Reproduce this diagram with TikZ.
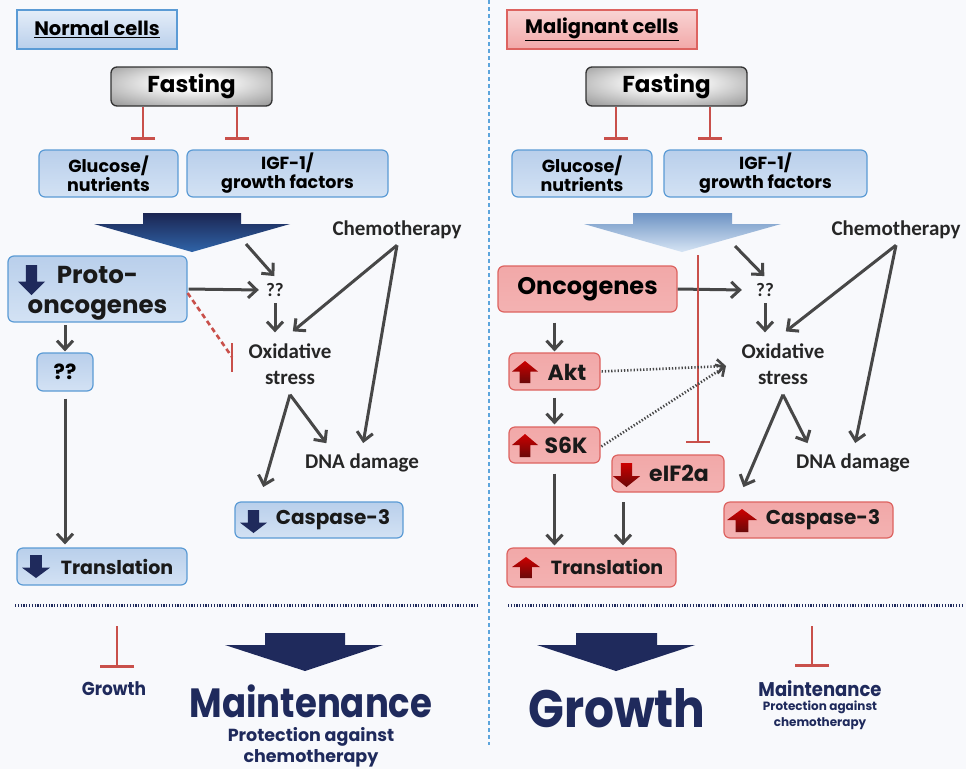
\documentclass[tikz,border=0pt]{standalone}
\usepackage{fontspec}
\setmainfont{Poppins}
\newfontfamily\carl{Carlito}
\usetikzlibrary{arrows.meta}
\definecolor{bgc}{HTML}{F8F9FC}
\definecolor{bline}{HTML}{5B9BD5}
\definecolor{btop}{HTML}{B9CFEB}
\definecolor{bbot}{HTML}{D3E2F4}
\definecolor{rline}{HTML}{DD6360}
\definecolor{rtop}{HTML}{F2A8A8}
\definecolor{rmid}{HTML}{FAD4D4}
\definecolor{rbot}{HTML}{F3B2B2}
\definecolor{agray}{HTML}{474747}
\definecolor{inhred}{HTML}{C9504B}
\definecolor{navy}{HTML}{1F2A5C}
\definecolor{iconred}{HTML}{B00E0E}
\definecolor{divblue}{HTML}{5DA5DC}
\pgfdeclareradialshading{fastshade}{\pgfpoint{0bp}{6bp}}{color(0bp)=(white); color(8bp)=(white); color(40bp)=(black!45); color(60bp)=(black!60); color(71bp)=(black!65)}
\newcommand\fs[2]{\fontsize{#1}{#2}\selectfont}
% cx cy w h style
\newcommand\dnicon[5]{\path[#5] ({#1-0.21*#3},{#2-0.5*#4}) -- ({#1+0.21*#3},{#2-0.5*#4}) -- ({#1+0.21*#3},{#2+0.05*#4}) -- ({#1+0.5*#3},{#2+0.05*#4}) -- ({#1},{#2+0.5*#4}) -- ({#1-0.5*#3},{#2+0.05*#4}) -- ({#1-0.21*#3},{#2+0.05*#4}) -- cycle;}
\newcommand\upicon[5]{\path[#5] ({#1-0.21*#3},{#2+0.5*#4}) -- ({#1+0.21*#3},{#2+0.5*#4}) -- ({#1+0.21*#3},{#2-0.02*#4}) -- ({#1+0.5*#3},{#2-0.02*#4}) -- ({#1},{#2-0.5*#4}) -- ({#1-0.5*#3},{#2-0.02*#4}) -- ({#1-0.21*#3},{#2-0.02*#4}) -- cycle;}
\newcommand\tall[1]{\scalebox{1}[1.1]{#1}}
\begin{document}
\begin{tikzpicture}[x=1pt,y=-1pt,
  bluebox/.style={rectangle, draw=bline, line width=1.2pt, rounded corners=6pt, top color=btop, bottom color=bbot, inner sep=0pt, align=center},
  redbox/.style={rectangle, draw=rline, line width=1.2pt, rounded corners=6pt, top color=rtop, middle color=rmid, bottom color=rbot, inner sep=0pt, align=center},
  fastbox/.style={rectangle, draw=black!80, line width=1.3pt, rounded corners=6pt, shade, shading=fastshade, inner sep=0pt, minimum width=161pt, minimum height=39pt, font=\bfseries\fs{23}{27}},
  hdr/.style={rectangle, line width=1.2pt, inner sep=0pt, minimum height=39pt, font=\bfseries\fs{19.5}{22}},
  arr/.style={draw=agray, line width=3pt, shorten >=1pt, -{Straight Barb[length=8.5pt,width=16pt]}},
  dotarr/.style={draw=agray, line width=2.6pt, dash pattern=on 1.3pt off 1.9pt, -{Straight Barb[length=7pt,width=14pt]}},
  inh/.style={draw=inhred, line width=2.8pt, -{Bar[width=24pt]}},
  plain/.style={font=\carl\bfseries\fs{21}{26}, text=black!85, inner xsep=4pt, inner ysep=6pt, align=center},
  btxt/.style={font=\bfseries\fs{#1}{#1}, inner sep=0pt, text=black!90},
  navytxt/.style={text=navy, align=center, inner sep=0pt},
  bigarrow/.style={fill=navy}
]
\useasboundingbox (0,0) rectangle (966,769);
\fill[bgc] (0,0) rectangle (966,769);

% dividers
\draw[divblue, line width=1.4pt, dash pattern=on 4pt off 3pt] (489,0) -- (489,745);
\draw[navy, line width=3pt, dash pattern=on 1.2pt off 1.6pt] (15,605) -- (479,605);
\draw[navy, line width=3pt, dash pattern=on 1.2pt off 1.6pt] (508,605) -- (964,605);

% ================= LEFT: normal cells =================
\node[hdr, draw=bline, top color=bbot!60!white, bottom color=btop, minimum width=160pt] (hdrL) at (97,29.5) {\underline{Normal cells}};
\node[fastbox] (fastL) at (191.5,86.5) {Fasting};
\node[bluebox, minimum width=139pt, minimum height=47pt, font=\bfseries\fs{17.5}{19}] (gluL) at (108.5,173.5) {Glucose/\\nutrients};
\node[bluebox, minimum width=201pt, minimum height=47pt, font=\bfseries\fs{17.5}{19}] (igfL) at (287.5,173.5) {IGF-1/\\growth factors};
\coordinate (i1) at (143,140);
\coordinate (i2) at (237,140);
\draw[inh] (fastL.south -| i1) -- (i1);
\draw[inh] (fastL.south -| i2) -- (i2);

% big block arrow
\shade[top color=navy!90!black, bottom color={rgb,255:red,47;green,100;blue,168}] (143,213) -- (241,213) -- (241,224) -- (290,224) -- (192,252) -- (94,224) -- (143,224) -- cycle;
\coordinate (srcL) at (246,244);

\node[plain] (chemL) at (397,230) {Chemotherapy};
\node[bluebox, minimum width=179pt, minimum height=66pt] (proto) at (97.5,289) {};
\node[btxt=24, font=\bfseries\fs{24.5}{30}, align=center] (protoT) at (97.5,293) {Proto-\\oncogenes};
\dnicon{31.5}{280}{27}{30}{fill=navy}
\node[plain, font=\carl\bfseries\fs{19}{20}, minimum width=30pt, minimum height=26pt, inner sep=0pt] (qqL) at (275,290) {??};
\node[plain, inner ysep=10pt] (oxL) at (290,364) {Oxidative\\stress};
\node[plain, inner ysep=8pt] (dnaL) at (362,463) {DNA damage};
\node[bluebox, minimum width=168pt, minimum height=36pt] (caspL) at (319,520) {};
\node[btxt=20] (caspLT) at (333,520) {Caspase-3};
\dnicon{253.5}{521.5}{27}{23}{fill=navy}
\node[bluebox, minimum width=56pt, minimum height=38pt, font=\bfseries\fs{21}{21}] (qbox) at (65,372) {??};
\node[bluebox, minimum width=170pt, minimum height=37pt] (transL) at (102,566.5) {};
\node[btxt=19] (transLT) at (117,567) {Translation};
\dnicon{36}{566.5}{28}{23}{fill=navy}

\draw[arr] (srcL) -- (qqL.north);
\draw[arr, shorten <=1pt] (proto.east) -- (qqL.west);
\draw[arr] (qqL.south) -- (qqL.south |- oxL.north);
\coordinate (oxLt) at (292,332);
\draw[arr] (chemL.south) -- (oxLt);
\coordinate (dnaLt) at (363,444);
\draw[arr] (chemL.south) -- (dnaLt);
\coordinate (caspLt) at (263,488);
\draw[arr] (oxL.south) -- (caspLt);
\coordinate (dnaLt2) at (327,444);
\draw[arr] (oxL.south) -- (dnaLt2);
\coordinate (barL) at (232,357);
\draw[inhred, line width=2.6pt, dash pattern=on 5pt off 3.5pt] ([yshift=-4pt]proto.east) -- (barL);
\draw[inhred, line width=2.8pt] (barL) ++(0,-14) -- ++(0,29);
\coordinate (protoB) at (65,322);
\draw[arr, shorten <=3pt] (protoB) -- (qbox.north);
\draw[arr, shorten <=7pt, shorten >=3pt] (qbox.south) -- (qbox.south |- transL.north);

% bottom left
\coordinate (tL) at (117,626);
\node[navytxt, font=\bfseries\fs{17}{17}] (growthS) at (114,689) {\tall{Growth}};
\draw[inhred, line width=2.8pt, -{Bar[width=34pt]}] (tL) -- (tL |- 0,668);
\path[bigarrow] (265,633) -- (345,633) -- (345,645) -- (383,645) -- (305,671) -- (225,645) -- (265,645) -- cycle;
\node[navytxt, font=\bfseries\fs{35.5}{35.5}] (maintL) at (311,701) {\scalebox{1}[1.15]{Maintenance}};
\node[navytxt, font=\bfseries\fs{17.5}{21}] (protL) at (311,747) {Protection against\\chemotherapy};

% ================= RIGHT: malignant cells =================
\node[hdr, draw=rline, top color=rtop!50!white, bottom color=rtop, minimum width=190pt] (hdrR) at (602,29.5) {\underline{Malignant cells}};
\node[fastbox] (fastR) at (666.5,86.5) {Fasting};
\node[bluebox, minimum width=140pt, minimum height=47pt, font=\bfseries\fs{17.5}{19}] (gluR) at (582,173.5) {Glucose/\\nutrients};
\node[bluebox, minimum width=203pt, minimum height=47pt, font=\bfseries\fs{17.5}{19}] (igfR) at (765.5,173.5) {IGF-1/\\growth factors};
\coordinate (i3) at (616,140);
\coordinate (i4) at (710,140);
\draw[inh] (fastR.south -| i3) -- (i3);
\draw[inh] (fastR.south -| i4) -- (i4);

\shade[top color={rgb,255:red,110;green,148;blue,196}, bottom color={rgb,255:red,214;green,228;blue,244}] (633,213) -- (732,213) -- (732,224) -- (781,224) -- (682,252) -- (584,224) -- (633,224) -- cycle;
\coordinate (srcR) at (735,246);
\coordinate (srcR2) at (698,255);

\node[plain] (chemR) at (896,230) {Chemotherapy};
\node[redbox, minimum width=179pt, minimum height=46pt, font=\bfseries\fs{24}{24}] (oncoR) at (587.5,289) {Oncogenes};
\node[plain, font=\carl\bfseries\fs{19}{20}, minimum width=44pt, minimum height=26pt, inner sep=0pt] (qqR) at (765,290) {??};
\node[plain, inner ysep=10pt] (oxR) at (783,364) {Oxidative\\stress};
\node[plain, inner ysep=8pt] (dnaR) at (853,463) {DNA damage};
\node[redbox, minimum width=169pt, minimum height=36pt] (caspR) at (808.5,520) {};
\node[btxt=20] (caspRT) at (823,520) {Caspase-3};
\upicon{742}{520.5}{30}{23}{top color=red!80!black, bottom color=iconred!60!black}
\node[redbox, minimum width=91pt, minimum height=37pt] (akt) at (554.5,371.5) {};
\node[btxt=22] (aktT) at (567,372) {Akt};
\upicon{525}{372}{26}{22}{top color=red!80!black, bottom color=iconred!60!black}
\node[redbox, minimum width=91pt, minimum height=36pt] (s6k) at (554.5,445) {};
\node[btxt=22] (s6kT) at (566,445) {S6K};
\upicon{525}{445.5}{26}{23}{top color=red!80!black, bottom color=iconred!60!black}
\node[redbox, minimum width=112pt, minimum height=37pt] (eif) at (668,473.5) {};
\node[btxt=22] (eifT) at (679,473) {eIF2a};
\dnicon{626.5}{475}{27}{24}{top color=red!80!black, bottom color=iconred!60!black}
\node[redbox, minimum width=169pt, minimum height=39pt] (transR) at (591.5,567.5) {};
\node[btxt=19] (transRT) at (607,567) {Translation};
\upicon{526}{567.5}{28}{21}{top color=red!80!black, bottom color=iconred!60!black}

\draw[arr] (oncoR.east) -- (qqR.west);
\draw[arr] (srcR) -- (qqR.north);
\draw[arr] (qqR.south) -- (qqR.south |- oxR.north);
\coordinate (oxRt) at (785,332);
\draw[arr] (chemR.south) -- (oxRt);
\coordinate (dnaRt) at (855,444);
\draw[arr] (chemR.south) -- (dnaRt);
\coordinate (caspRt) at (743,488);
\draw[arr] (oxR.south) -- (caspRt);
\coordinate (dnaRt2) at (808,444);
\draw[arr] (oxR.south) -- (dnaRt2);
\draw[inh, shorten >=11pt] (srcR2) -- (srcR2 |- eif.north);
\draw[arr, shorten <=10pt] (akt.north |- oncoR.south) -- (akt.north);
\draw[arr, shorten <=7pt, shorten >=2pt] (akt.south) -- (s6k.north);
\draw[arr, shorten <=10pt, shorten >=2pt] (s6k.south) -- (s6k.south |- transR.north);
\coordinate (eifB) at (623,492);
\draw[arr, shorten <=10pt, shorten >=2pt] (eifB) -- (eifB |- transR.north);
\coordinate (oxRl) at (726,366);
\draw[dotarr, shorten <=1pt] (akt.east) -- (oxRl);
\draw[dotarr, shorten <=1pt] ([yshift=-2pt]s6k.east) -- (oxRl);

% bottom right
\path[bigarrow] (576,633) -- (657,633) -- (657,645) -- (695,645) -- (616,671) -- (537,645) -- (576,645) -- cycle;
\node[navytxt, font=\bfseries\fs{47}{47}] (growthR) at (617,708) {\scalebox{1}[1.12]{Growth}};
\coordinate (tR) at (812,626);
\draw[inhred, line width=2.8pt, -{Bar[width=34pt]}] (tR) -- (tR |- 0,667);
\node[navytxt, font=\bfseries\fs{18}{18}] (maintR) at (820,689) {\tall{Maintenance}};
\node[navytxt, font=\bfseries\fs{12}{16}] (protR) at (820,715) {Protection against\\chemotherapy};
\end{tikzpicture}
\end{document}
